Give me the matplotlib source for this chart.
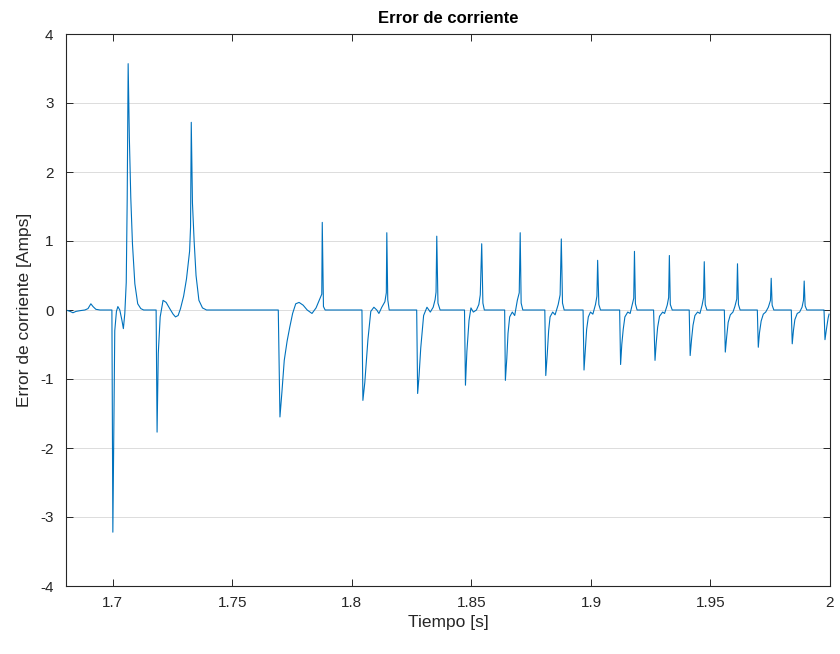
import matplotlib
matplotlib.use("Agg")
import matplotlib.pyplot as plt

# ---- data ----
tiempo = [
    1.6804, 1.6821, 1.6833, 1.6846, 1.6862, 1.6883, 1.6896, 1.6908, 1.6917, 1.6929, 1.6946,
    1.6996, 1.7000, 1.7008, 1.7015, 1.7021, 1.7029, 1.7038, 1.7044, 1.7050, 1.7056, 1.7060,
    1.7064, 1.7069, 1.7075, 1.7082, 1.7092, 1.7104, 1.7117, 1.7129,
    1.7181, 1.7185, 1.7190, 1.7198, 1.7210, 1.7223, 1.7238, 1.7252, 1.7262, 1.7273, 1.7283,
    1.7296, 1.7308, 1.7321, 1.7325, 1.7328, 1.7333, 1.7340, 1.7348, 1.7360, 1.7375, 1.7392,
    1.7692, 1.7699, 1.7707, 1.7717, 1.7729, 1.7740, 1.7752, 1.7765, 1.7779, 1.7796, 1.7813,
    1.7833, 1.7850, 1.7863, 1.7874, 1.7876, 1.7881, 1.7888,
    1.8042, 1.8046, 1.8054, 1.8067, 1.8079, 1.8092, 1.8104, 1.8113, 1.8125, 1.8138, 1.8144,
    1.8146, 1.8150, 1.8156,
    1.8271, 1.8275, 1.8281, 1.8288, 1.8300, 1.8314, 1.8328, 1.8340, 1.8348, 1.8352, 1.8355,
    1.8360, 1.8369,
    1.8471, 1.8475, 1.8481, 1.8490, 1.8498, 1.8508, 1.8521, 1.8531, 1.8537, 1.8543, 1.8548,
    1.8554,
    1.8639, 1.8642, 1.8648, 1.8653, 1.8660, 1.8671, 1.8681, 1.8692, 1.8700, 1.8704, 1.8708,
    1.8715,
    1.8807, 1.8811, 1.8817, 1.8823, 1.8829, 1.8840, 1.8850, 1.8863, 1.8871, 1.8876, 1.8881,
    1.8888,
    1.8967, 1.8971, 1.8976, 1.8982, 1.8989, 1.8998, 1.9008, 1.9019, 1.9025, 1.9028, 1.9033,
    1.9040,
    1.9120, 1.9124, 1.9129, 1.9135, 1.9142, 1.9154, 1.9164, 1.9172, 1.9179, 1.9182, 1.9186,
    1.9193,
    1.9262, 1.9268, 1.9273, 1.9279, 1.9287, 1.9300, 1.9308, 1.9319, 1.9325, 1.9328, 1.9332,
    1.9340,
    1.9411, 1.9415, 1.9421, 1.9427, 1.9435, 1.9446, 1.9456, 1.9465, 1.9471, 1.9474, 1.9478,
    1.9485,
    1.9558, 1.9562, 1.9568, 1.9574, 1.9583, 1.9594, 1.9602, 1.9610, 1.9613, 1.9617, 1.9624,
    1.9696, 1.9700, 1.9705, 1.9712, 1.9721, 1.9731, 1.9742, 1.9751, 1.9754, 1.9758, 1.9765,
    1.9838, 1.9842, 1.9847, 1.9853, 1.9863, 1.9873, 1.9883, 1.9889, 1.9892, 1.9896, 1.9903,
    1.9975, 1.9979, 1.9985, 1.9992, 1.9996,
]
error_corriente = [
    0.00, -0.02, -0.04, -0.02, -0.01, 0.00, 0.02, 0.09, 0.05, 0.01, 0.00,
    0.00, -3.22, -0.30, -0.02, 0.05, 0.00, -0.15, -0.27, -0.05, 0.40, 1.60,
    3.57, 2.50, 1.63, 0.96, 0.38, 0.09, 0.02, 0.00,
    0.00, -1.77, -0.63, -0.10, 0.14, 0.11, 0.02, -0.06, -0.10, -0.08, 0.02,
    0.20, 0.45, 0.85, 1.20, 2.72, 1.55, 1.00, 0.50, 0.14, 0.03, 0.00,
    0.00, -1.55, -1.20, -0.73, -0.45, -0.25, -0.05, 0.09, 0.11, 0.07, 0.00,
    -0.05, 0.03, 0.14, 0.23, 1.27, 0.05, 0.00,
    0.00, -1.31, -1.05, -0.43, -0.02, 0.04, 0.00, -0.05, 0.04, 0.12, 0.25,
    1.12, 0.15, 0.00,
    0.00, -1.21, -0.95, -0.55, -0.08, 0.04, -0.03, 0.04, 0.15, 0.26, 1.07,
    0.10, 0.00,
    0.00, -1.09, -0.60, -0.15, 0.03, -0.03, 0.00, 0.08, 0.22, 0.96, 0.10,
    0.00,
    0.00, -1.02, -0.70, -0.34, -0.10, -0.03, -0.08, 0.14, 0.25, 1.12, 0.10,
    0.00,
    0.00, -0.95, -0.65, -0.30, -0.10, -0.03, -0.07, 0.08, 0.22, 1.03, 0.10,
    0.00,
    0.00, -0.87, -0.60, -0.28, -0.10, -0.03, -0.06, 0.08, 0.20, 0.72, 0.08,
    0.00,
    0.00, -0.79, -0.50, -0.28, -0.10, -0.03, -0.05, 0.07, 0.17, 0.85, 0.09,
    0.00,
    0.00, -0.73, -0.48, -0.25, -0.09, -0.03, -0.05, 0.07, 0.18, 0.79, 0.08,
    0.00,
    0.00, -0.66, -0.42, -0.22, -0.08, -0.03, -0.05, 0.07, 0.18, 0.70, 0.08,
    0.00,
    0.00, -0.61, -0.38, -0.18, -0.07, -0.03, 0.05, 0.16, 0.67, 0.08, 0.00,
    0.00, -0.54, -0.33, -0.16, -0.06, -0.03, 0.04, 0.14, 0.46, 0.07, 0.00,
    0.00, -0.49, -0.30, -0.14, -0.05, -0.03, 0.04, 0.14, 0.42, 0.06, 0.00,
    0.00, -0.43, -0.28, -0.12, -0.06,
]

x_ticks = [1.7, 1.75, 1.8, 1.85, 1.9, 1.95, 2.0]
x_tick_labels = ["1.7", "1.75", "1.8", "1.85", "1.9", "1.95", "2"]
y_ticks = [-4, -3, -2, -1, 0, 1, 2, 3, 4]
y_tick_labels = ["-4", "-3", "-2", "-1", "0", "1", "2", "3", "4"]

titulo = "Error de corriente"
etiqueta_x = "Tiempo [s]"
etiqueta_y = "Error de corriente [Amps]"

# ---- figure ----
plt.rcParams["font.family"] = ["Liberation Sans", "DejaVu Sans"]
plt.rcParams["axes.unicode_minus"] = False

W, H = 840, 654
fig = plt.figure(figsize=(W / 100, H / 100), dpi=100)
ax = fig.add_axes([66 / W, (H - 586) / H, 764 / W, 552 / H])

ax.plot(tiempo, error_corriente, color="#0072BD", linewidth=0.8)

ax.set_xlim(1.6804, 2.0)
ax.set_ylim(-4, 4)

axis_col = "#262626"
ax.set_xticks(x_ticks)
ax.set_xticklabels(x_tick_labels)
ax.set_yticks(y_ticks)
ax.set_yticklabels(y_tick_labels)
ax.tick_params(direction="in", length=5, width=0.7, colors=axis_col,
               labelsize=11, top=True, right=True, pad=7)
ax.tick_params(axis="y", pad=9)

for s in ax.spines.values():
    s.set_color(axis_col)
    s.set_linewidth(0.8)

ax.yaxis.grid(True, color="#dcdcdc", linewidth=0.7)
ax.xaxis.grid(False)
ax.set_axisbelow(True)

ax.set_title(titulo, fontsize=12, fontweight="bold", color="#000000", pad=8)
ax.set_xlabel(etiqueta_x, fontsize=12.5, color=axis_col, labelpad=4)
ax.set_ylabel(etiqueta_y, fontsize=12.5, color=axis_col, labelpad=6)

fig.savefig("out.png", dpi=100, facecolor="white")
